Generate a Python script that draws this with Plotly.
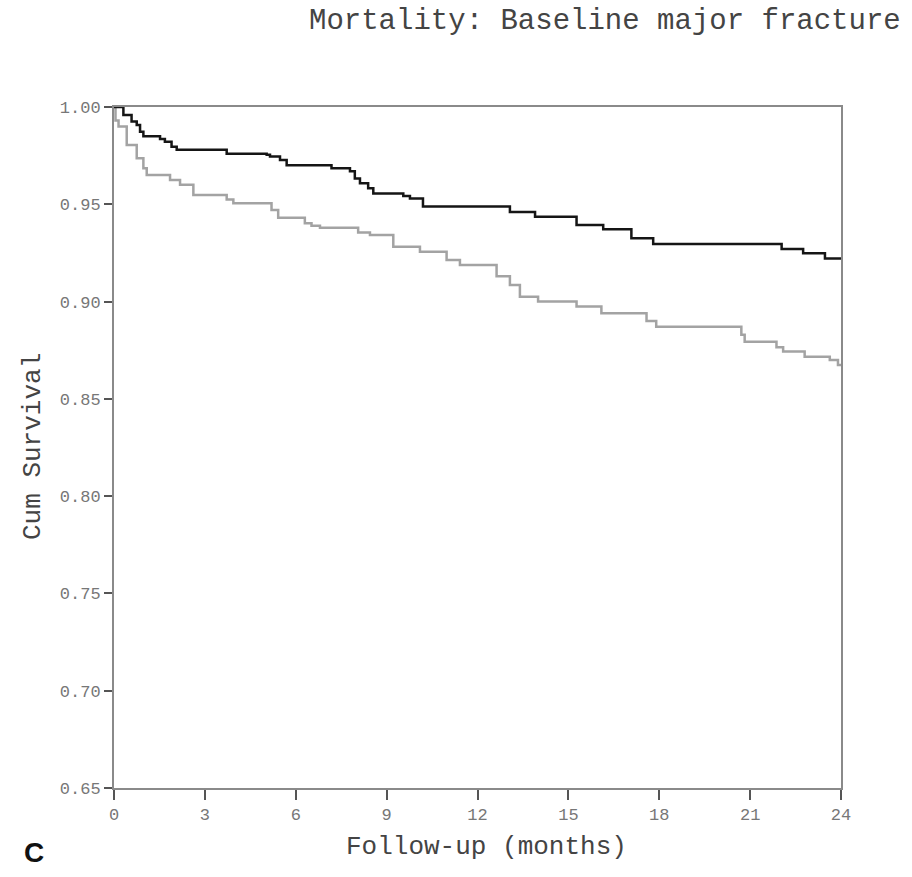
import plotly.graph_objects as go

# Data (Kaplan-Meier step curves)
t_black = [0, 0.31, 0.58, 0.75, 0.86, 0.97, 1.52, 1.68, 1.90, 2.07, 3.72, 5.04, 5.15, 5.48, 5.70,
           7.18, 7.79, 7.95, 8.12, 8.39, 8.56, 9.55, 9.77, 10.2, 13.07, 13.9, 15.27, 16.15,
           17.08, 17.8, 22.04, 22.75, 23.47, 24]
s_black = [1.0, 0.9959, 0.9925, 0.9908, 0.9873, 0.985, 0.9835, 0.9822, 0.9796, 0.978, 0.976, 0.9755,
           0.9745, 0.9728, 0.970, 0.9685, 0.967, 0.9633, 0.9608, 0.9582, 0.9556, 0.9542, 0.953, 0.9488,
           0.946, 0.9436, 0.9394, 0.9372, 0.9325, 0.9296, 0.927, 0.9248, 0.9222, 0.9222]

t_gray = [0, 0.05, 0.15, 0.42, 0.75, 0.97, 1.08, 1.85, 2.18, 2.62, 3.72, 3.94, 5.2, 5.42, 6.3, 6.52,
          6.8, 8.06, 8.45, 9.22, 10.1, 10.98, 11.42, 12.63, 13.07, 13.4, 14.0, 15.27, 16.09, 17.58,
          17.9, 20.71, 20.82, 21.87, 22.09, 22.8, 23.63, 23.9, 24]
s_gray = [1.0, 0.993, 0.990, 0.9805, 0.9736, 0.9685, 0.965, 0.9625, 0.960, 0.9548, 0.9525, 0.9505,
          0.947, 0.9431, 0.9402, 0.939, 0.938, 0.9355, 0.9342, 0.9282, 0.9256, 0.9214, 0.9188, 0.9130,
          0.9085, 0.9025, 0.900, 0.8975, 0.894, 0.8900, 0.8871, 0.8830, 0.8794, 0.8765, 0.8743,
          0.8717, 0.870, 0.8674, 0.8674]

x_ticks = [0, 3, 6, 9, 12, 15, 18, 21, 24]
y_ticks = [0.65, 0.70, 0.75, 0.80, 0.85, 0.90, 0.95, 1.00]
y_labels = ["0.65", "0.70", "0.75", "0.80", "0.85", "0.90", "0.95", "1.00"]

mono = "Courier New, Liberation Mono, monospace"

fig = go.Figure()
fig.add_trace(go.Scatter(x=t_gray, y=s_gray, mode="lines", line=dict(shape="hv", color="#a3a3a3", width=2.5),
                         showlegend=False, hoverinfo="skip"))
fig.add_trace(go.Scatter(x=t_black, y=s_black, mode="lines", line=dict(shape="hv", color="#151515", width=2.5),
                         showlegend=False, hoverinfo="skip"))

L, R, T, B = 114, 71, 107, 89
W, H = 912, 877
pw, ph = W - L - R, H - T - B

def px(x):
    return (x - L) / pw

def py(y):
    return (H - B - y) / ph

fig.update_layout(
    width=W, height=H,
    margin=dict(l=L, r=R, t=T, b=B),
    paper_bgcolor="white", plot_bgcolor="white",
    xaxis=dict(range=[0, 24], tickvals=x_ticks, ticktext=[str(v) for v in x_ticks],
               showgrid=False, zeroline=False, showline=True, mirror=True, linecolor="#8a8a8a", linewidth=2,
               ticks="outside", ticklen=10, tickwidth=2, tickcolor="#555",
               tickfont=dict(family=mono, size=17, color="#777")),
    yaxis=dict(range=[0.65, 1.0], tickvals=y_ticks, ticktext=y_labels,
               showgrid=False, zeroline=False, showline=True, mirror=True, linecolor="#8a8a8a", linewidth=2,
               ticks="outside", ticklen=8, tickwidth=2, tickcolor="#555",
               tickfont=dict(family=mono, size=17, color="#777")),
    annotations=[
        dict(text="Mortality: Baseline major fracture", xref="paper", yref="paper",
             x=px(903), y=py(22), xanchor="right", yanchor="middle", showarrow=False,
             font=dict(family=mono, size=29, color="#444")),
        dict(text="Follow-up (months)", xref="paper", yref="paper",
             x=px(486), y=py(847), xanchor="center", yanchor="middle", showarrow=False,
             font=dict(family=mono, size=26, color="#444")),
        dict(text="Cum Survival", xref="paper", yref="paper", textangle=-90,
             x=px(33), y=py(447), xanchor="center", yanchor="middle", showarrow=False,
             font=dict(family=mono, size=26, color="#444")),
        dict(text="<b>C</b>", xref="paper", yref="paper",
             x=px(34), y=py(852), xanchor="center", yanchor="middle", showarrow=False,
             font=dict(family="Liberation Sans, Arial, sans-serif", size=28, color="#111")),
    ],
)

fig.write_html("out.html")
